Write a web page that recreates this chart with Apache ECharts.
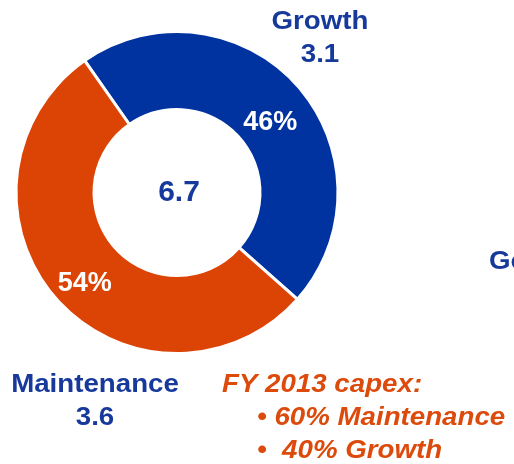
<!DOCTYPE html>
<html>
<head>
<meta charset="utf-8">
<script src="https://cdn.jsdelivr.net/npm/echarts@6/dist/echarts.min.js"></script>
<style>
  html, body { margin: 0; padding: 0; background: #fff; }
  #chart { width: 514px; height: 464px; }
</style>
</head>
<body>
<div id="chart"></div>
<script>
// Capex split (US$ bn)
const categories = ['Growth', 'Maintenance'];
const values = [3.1, 3.6];
const colors = ['#0033a0', '#dc4405'];

// FY 2013 plan notes
const noteTitle = 'FY 2013 capex:';
const noteLines = ['\u2022 60% Maintenance', '\u2022  40% Growth'];
// Neighbouring panel's heading, cut off at the edge
const sideLabel = 'Go';

const total = values.reduce((a, b) => a + b, 0);
const FONT = '"Liberation Sans", Arial, sans-serif';
const BLUE_TEXT = '#17399b';
const ORANGE_TEXT = '#dc4a0c';
const WIDE = 1.065; // slightly widened lettering

const chart = echarts.init(document.getElementById('chart'), null, { renderer: 'canvas' });

const textEl = (text, x, y, opts) => ({
  type: 'text',
  x: x, y: y,
  scaleX: opts.scaleX || 1,
  style: {
    text: text,
    fill: opts.fill,
    font: opts.font,
    align: opts.align || 'center',
    verticalAlign: 'middle',
    lineHeight: opts.lineHeight
  }
});

const labelOffsets = [[0, 13], [1, 8]];

chart.setOption({
  animation: false,
  backgroundColor: '#ffffff',
  series: [{
    type: 'pie',
    center: [177, 192.5],
    radius: [83, 161],
    startAngle: 125,
    clockwise: true,
    percentPrecision: 0,
    avoidLabelOverlap: false,
    itemStyle: { borderColor: '#ffffff', borderWidth: 3 },
    label: {
      show: true,
      position: 'inside',
      formatter: '{d}%',
      color: '#ffffff',
      fontFamily: FONT,
      fontWeight: 'bold',
      fontSize: 27
    },
    labelLine: { show: false },
    emphasis: { disabled: true },
    data: categories.map((c, i) => ({
      name: c,
      value: values[i],
      itemStyle: { color: colors[i] },
      label: { offset: labelOffsets[i] }
    }))
  }],
  graphic: [
    textEl(total.toFixed(1), 179, 193, { fill: BLUE_TEXT, font: 'bold 30px ' + FONT }),
    textEl(categories[0] + '\n' + values[0].toFixed(1), 320, 38,
      { fill: BLUE_TEXT, font: 'bold 26px ' + FONT, lineHeight: 33, scaleX: WIDE }),
    textEl(categories[1] + '\n' + values[1].toFixed(1), 95, 401,
      { fill: BLUE_TEXT, font: 'bold 26px ' + FONT, lineHeight: 33, scaleX: WIDE }),
    textEl(sideLabel, 489, 262,
      { fill: BLUE_TEXT, font: 'bold 26px ' + FONT, align: 'left', scaleX: WIDE }),
    textEl(noteTitle, 222, 385,
      { fill: ORANGE_TEXT, font: 'italic bold 26px ' + FONT, align: 'left', scaleX: WIDE }),
    textEl(noteLines[0], 257, 418,
      { fill: ORANGE_TEXT, font: 'italic bold 26px ' + FONT, align: 'left', scaleX: WIDE }),
    textEl(noteLines[1], 257, 451,
      { fill: ORANGE_TEXT, font: 'italic bold 26px ' + FONT, align: 'left', scaleX: WIDE })
  ]
});
</script>
</body>
</html>
